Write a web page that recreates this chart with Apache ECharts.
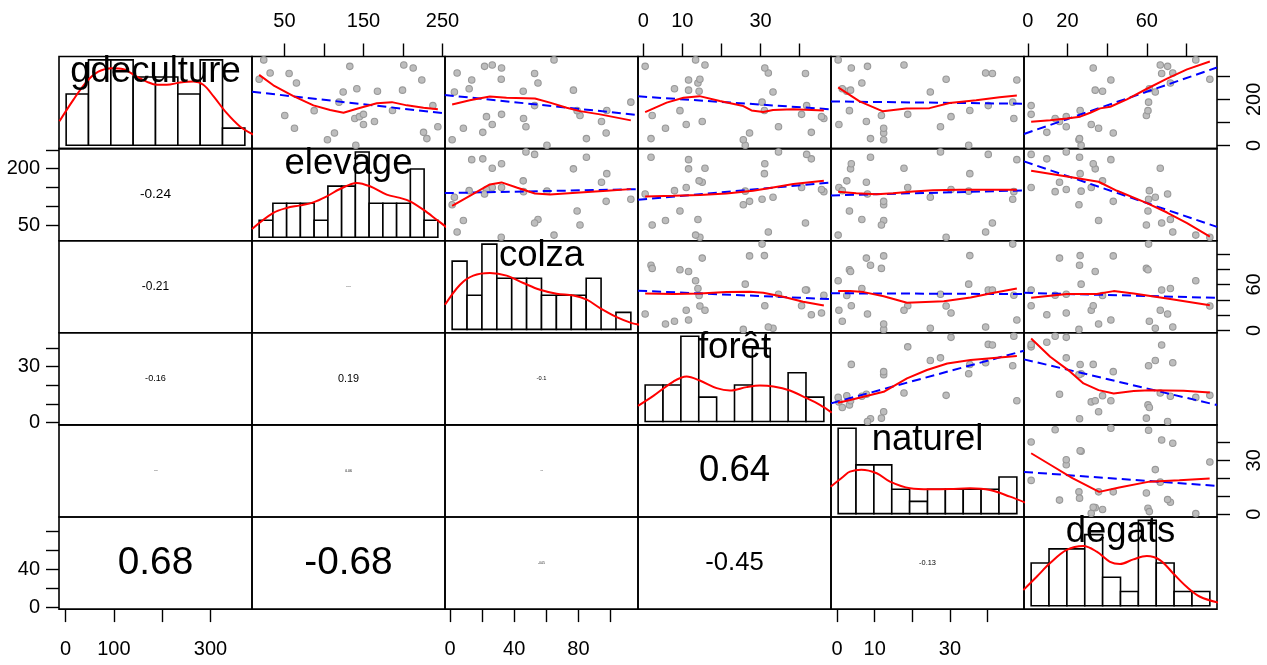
<!DOCTYPE html>
<html><head><meta charset="utf-8">
<script src="https://cdn.jsdelivr.net/npm/echarts@6/dist/echarts.min.js"></script>
<style>html,body{margin:0;padding:0;background:#fff}#c{width:1267px;height:665px}</style>
</head><body><div id="c"></div>
<script>
// ---------- data (30 observations, naturel has one missing value) ----------
const varNames = ['gdeculture', 'elevage', 'colza', 'forêt', 'naturel', 'degats'];
const gdeculture = [1.4, 25, 30, 54, 57, 75, 81, 91, 104, 117, 125, 130, 135, 151, 152, 173, 188, 232, 235, 240, 246, 271, 284, 287, 312, 314, 336, 343, 349, 371];
const elevage = [140.3, 104.4, 230.2, 113.3, 226, 62.7, 244.1, 150, 163.9, 139, 144.9, 50.4, 150, 87.6, 186.7, 237.8, 119, 124.3, 167.7, 199.4, 141.6, 65.2, 223.8, 18, 55.9, 31.9, 212.9, 132.7, 201, 23.8];
const colza = [60.4, 1.3, 85, 97.3, 20.4, 8.3, 47.3, 26.3, 94.4, 45.8, 22.7, 81, 32.1, 79.2, 97.7, 52.7, 112.7, 2.7, 45.6, 76.9, 11.9, 54.8, 13.5, 31.9, 52.7, 4.4, 32.1, 21.5, 26.3, 64.8];
const foret = [26.1, 25.6, 2.0, 27.2, 43, 5.7, 34.6, 11, 15.1, 46.2, 45.6, 2.3, 40.5, 9.4, 31, 41.8, 30.4, 33.2, 14.3, 11.6, 8.0, 14, 11.6, 14.5, 41.5, 32, 31.1, 0.5, 15.8, 13.4];
const naturel = [35, 12.4, 8.9, 12.4, null, 12.4, 27.5, 0.5, 7.8, 47, 30.3, 11.8, 18.8, 3.3, 35.3, 40.2, 46.7, 24.8, 2.6, 3.6, 1.4, 6.6, 47.8, 29, 41.3, 39.5, 3.8, 8.1, 17.8, 0.3];
const degats = [26.9, 25.8, 26.1, 43.1, 9.6, 35.7, 19.4, 32, 16, 13.8, 19.4, 59.8, 1.7, 60.6, 26.4, 1.7, 60.9, 64.3, 37.7, 34, 61.3, 71.9, 41.9, 91.8, 67.5, 73.1, 33, 70.5, 66.8, 84.7];

// histogram breaks and counts (diagonal)
const gdecultureBreaks = [0, 50, 100, 150, 200, 250, 300, 350, 400];
const gdecultureCounts = [3, 5, 5, 4, 4, 3, 5, 1];
const elevageBreaks = [0, 20, 40, 60, 80, 100, 120, 140, 160, 180, 200, 220, 240, 260];
const elevageCounts = [1, 2, 2, 2, 1, 3, 3, 5, 2, 2, 2, 4, 1];
const colzaBreaks = [0, 10, 20, 30, 40, 50, 60, 70, 80, 90, 100, 110, 120];
const colzaCounts = [4, 2, 5, 3, 3, 3, 2, 2, 2, 3, 0, 1];
const foretBreaks = [0, 5, 10, 15, 20, 25, 30, 35, 40, 45, 50];
const foretCounts = [3, 3, 7, 2, 0, 3, 6, 0, 4, 2];
const naturelBreaks = [0, 5, 10, 15, 20, 25, 30, 35, 40, 45, 50];
const naturelCounts = [7, 4, 4, 2, 1, 2, 2, 2, 2, 3];
const degatsBreaks = [0, 10, 20, 30, 40, 50, 60, 70, 80, 90, 100];
const degatsCounts = [3, 4, 4, 5, 2, 1, 6, 3, 1, 1];

// density curves (in count units)
const gdecultureDensity = [[-15,1.4],[16,2.66],[46,3.73],[72,4.31],[102,4.51],[128,4.45],[158,4.02],[180,3.73],[203,3.54],[225,3.54],[255,3.67],[285,3.73],[307,3.54],[330,2.86],[359,1.89],[389,1.1],[419,0.62]];
const elevageDensity = [[-10.4,0.49],[20.6,1.43],[40,1.72],[59.4,1.87],[78.8,2.05],[98.3,2.4],[117.6,2.83],[141.9,3.19],[161.3,2.99],[185.6,2.5],[205,2.31],[219.5,2.11],[238.8,1.62],[258.3,1.03],[273.8,0.55]];
const colzaDensity = [[-4.8,1.44],[5.3,2.62],[14.2,3.15],[25.4,3.3],[36.6,3.15],[47.8,2.72],[59,2.32],[70.2,2.09],[81.4,1.99],[90.4,1.74],[99.3,1.25],[110.5,0.72],[120.6,0.37],[126.2,0.27]];
const foretDensity = [[-2,1.28],[2.3,2.1],[7.9,3.28],[11.6,3.69],[15.3,3.36],[20,2.74],[23.7,2.54],[28.4,2.82],[32.1,2.95],[35.9,2.87],[40.5,2.54],[45.2,1.91],[48.9,1.36],[52.2,0.73]];
const naturelDensity = [[-2.1,2.21],[1.4,3.03],[3.3,3.44],[6.5,3.6],[10.8,3.31],[14.5,2.62],[20.1,2.08],[25.7,2.0],[31.3,2.02],[36.9,2.08],[42.5,1.94],[48.1,1.39],[52.8,0.85]];
const degatsDensity = [[-4.4,1.1],[3.1,2.04],[10.5,2.98],[19.9,3.92],[29.2,4.2],[36.7,3.8],[44.1,3.09],[49.7,2.93],[57.2,3.26],[64.7,3.49],[72.1,3.21],[79.5,2.27],[87,1.33],[94.5,0.63],[105.3,0.2]];

// smoothers (red) and linear fits (blue dashed) for upper panels, keyed row-col
const smooth_1_2 = [[18,306],[36,261],[61.4,214],[86.7,174],[107.8,154],[124.7,142],[141.6,159],[166.9,183],[185.9,188],[204.9,174],[226,164],[244.1,157]];
const fit_1_2 = [[9.1,233],[253.4,139]];
const smooth_1_3 = [[1.3,178],[12.3,196],[24.8,212],[35.2,207],[52.9,204],[62.3,186],[72.7,164],[81,149],[93.5,135],[112.7,109]];
const fit_1_3 = [[-3.3,219],[117.5,132]];
const smooth_1_4 = [[0.5,145],[6,186],[10.3,207],[14.4,214],[19.6,193],[25.6,171],[27.7,152],[30.7,145],[33.2,154],[38.4,157],[46.2,152]];
const fit_1_4 = [[-1.3,213],[48,157]];
const smooth_1_5 = [[0.3,252],[6,191],[12.2,148],[18.4,160],[24.6,162],[29.9,184],[37,196],[43.2,209],[47.8,217]];
const fit_1_5 = [[-1.6,191],[49.7,181]];
const smooth_1_6 = [[1.7,103],[11.3,109],[19.7,117],[26.4,125],[31.5,142],[36.5,161],[41.6,168],[50,200],[60.1,246],[70.2,290],[80.3,330],[91.8,364]];
const fit_1_6 = [[-1.9,50],[95.4,338]];
const smooth_2_3 = [[1.3,101.4],[12.3,128],[24.8,158.2],[32.1,163.5],[41.5,150.2],[52.9,134.2],[62.3,131.6],[81,136.9],[97.7,141.3],[112.7,145.7]];
const fit_2_3 = [[-3.3,135.1],[117.5,145.7]];
const smooth_2_4 = [[0.5,126.2],[7.7,128],[14.5,129.8],[21.3,134.2],[28.1,141.3],[33.2,150.2],[38.4,159],[46.2,167.9]];
const fit_2_4 = [[-1.3,117.4],[48,163.5]];
const smooth_2_5 = [[0.3,138.6],[5.1,135],[10.5,132.4],[14.9,135],[20.2,139.5],[25.5,143],[32.6,143.9],[39.7,143.9],[47.8,143.9]];
const fit_2_5 = [[-1.6,129],[49.7,142.3]];
const smooth_2_6 = [[1.7,194.5],[19.7,179.4],[35.7,165.2],[45,141.3],[60.1,108.5],[70.2,83.7],[80.3,55.3],[91.8,20]];
const fit_2_6 = [[-1.9,219.3],[95.4,45.6]];
const smooth_3_4 = [[0.5,48.2],[7.7,47.4],[14.5,48.2],[21.3,50],[27.3,50.4],[30.7,49.1],[35.8,43.9],[40.9,37.3],[46.2,32.5]];
const fit_3_4 = [[-1.3,51.8],[48,40.8]];
const smooth_3_5 = [[0.3,51.3],[3.5,51.3],[7.1,50],[12.4,44.7],[18.6,36],[28.4,38.2],[35.5,43],[41.7,49.1],[47.8,54.8]];
const fit_3_5 = [[-1.6,48.5],[49.7,47.4]];
const smooth_3_6 = [[1.7,42.5],[19.7,47.4],[34.8,47.4],[43.3,51.3],[53.4,48.2],[70.2,41.7],[91.8,32.9]];
const fit_3_6 = [[-1.9,49.1],[95.4,42.5]];
const smooth_4_5 = [[0.3,10.5],[3.5,12],[12.4,16.4],[18.6,23.6],[23.9,28.1],[29.3,31.6],[35.5,33.4],[41.7,34.5],[47.8,35.6]];
const fit_4_5 = [[-1.6,10.2],[49.7,38.4]];
const smooth_4_6 = [[1.7,45],[11.3,35.2],[21.4,27.2],[28.1,20.9],[35.7,17.3],[43.3,15.5],[53.4,16.8],[61.8,17.3],[78.6,17],[91.8,16.1]];
const fit_4_6 = [[-1.9,33.8],[95.4,9.3]];
const smooth_5_6 = [[1.7,33.9],[12.4,26.8],[22.5,20],[36,12.4],[46.1,14.8],[61.3,18.1],[76.4,18.9],[91.7,19.8]];
const fit_5_6 = [[-1.9,23.5],[95.4,15.7]];

// correlation labels for lower panels, in reading order
const corrLabels = ['-0.24', '-0.21', '0.04', '-0.16', '0.19', '-0.1', '-0.03', '0.06', '0.02', '0.64', '0.68', '-0.68', '-0.05', '-0.45', '-0.13'];

// outer axis ticks and labels
const gdecultureTicks = [0, 100, 200, 300];      const gdecultureLabelsBottom = [0, 100, 300]; const gdecultureLabelsRight = [0, 200];
const elevageTicks = [50, 100, 150, 200, 250];  const elevageLabelsTop = [50, 150, 250];       const elevageLabelsLeft = [50, 200];
const colzaTicks = [0, 20, 40, 60, 80, 100];    const colzaLabelsBottom = [0, 40, 80];         const colzaLabelsRight = [0, 60];
const foretTicks = [0, 10, 20, 30, 40];         const foretLabelsTop = [0, 10, 30];            const foretLabelsLeft = [0, 30];
const naturelTicks = [0, 10, 20, 30, 40];       const naturelLabelsBottom = [0, 10, 30];       const naturelLabelsRight = [0, 30];
const degatsTicks = [0, 20, 40, 60, 80];        const degatsLabelsTop = [0, 20, 60];           const degatsLabelsLeft = [0, 40];

// ---------- build ----------
const vars = [gdeculture, elevage, colza, foret, naturel, degats];
const breaks = [gdecultureBreaks, elevageBreaks, colzaBreaks, foretBreaks, naturelBreaks, degatsBreaks];
const counts = [gdecultureCounts, elevageCounts, colzaCounts, foretCounts, naturelCounts, degatsCounts];
const dens = [gdecultureDensity, elevageDensity, colzaDensity, foretDensity, naturelDensity, degatsDensity];
const smooths = {'1_2':smooth_1_2,'1_3':smooth_1_3,'1_4':smooth_1_4,'1_5':smooth_1_5,'1_6':smooth_1_6,'2_3':smooth_2_3,'2_4':smooth_2_4,'2_5':smooth_2_5,'2_6':smooth_2_6,'3_4':smooth_3_4,'3_5':smooth_3_5,'3_6':smooth_3_6,'4_5':smooth_4_5,'4_6':smooth_4_6,'5_6':smooth_5_6};
const fits = {'1_2':fit_1_2,'1_3':fit_1_3,'1_4':fit_1_4,'1_5':fit_1_5,'1_6':fit_1_6,'2_3':fit_2_3,'2_4':fit_2_4,'2_5':fit_2_5,'2_6':fit_2_6,'3_4':fit_3_4,'3_5':fit_3_5,'3_6':fit_3_6,'4_5':fit_4_5,'4_6':fit_4_6,'5_6':fit_5_6};

const FONT = 'Liberation Sans, Arial, Helvetica, sans-serif';
const L0 = 59, W = 193, T0 = 56.5, H = 92.1;
function ext(a) {
  const v = a.filter(x => x != null);
  const mn = Math.min(...v), mx = Math.max(...v), r = mx - mn;
  return [mn - 0.04 * r, mx + 0.04 * r];
}
const ranges = vars.map(ext);

function outer(position, ticks, labels, rotate, margin) {
  return {
    show: true, position,
    axisLine: { show: false, onZero: false }, splitLine: { show: false },
    axisTick: { show: true, inside: false, length: 13, lineStyle: { color: '#000', width: 1.4 }, customValues: ticks },
    axisLabel: { show: true, customValues: labels, rotate: rotate || 0, margin, color: '#000', fontSize: 20, fontFamily: FONT, hideOverlap: false }
  };
}
const outerX = {
  '0_1': outer('top', elevageTicks, elevageLabelsTop, 0, 25),
  '0_3': outer('top', foretTicks, foretLabelsTop, 0, 25),
  '0_5': outer('top', degatsTicks, degatsLabelsTop, 0, 25),
  '5_0': outer('bottom', gdecultureTicks, gdecultureLabelsBottom, 0, 30),
  '5_2': outer('bottom', colzaTicks, colzaLabelsBottom, 0, 30),
  '5_4': outer('bottom', naturelTicks, naturelLabelsBottom, 0, 30)
};
const outerY = {
  '1_0': outer('left', elevageTicks, elevageLabelsLeft, 0, 19),
  '3_0': outer('left', foretTicks, foretLabelsLeft, 0, 19),
  '5_0': outer('left', degatsTicks, degatsLabelsLeft, 0, 19),
  '0_5': outer('right', gdecultureTicks, gdecultureLabelsRight, 90, 27),
  '2_5': outer('right', colzaTicks, colzaLabelsRight, 90, 27),
  '4_5': outer('right', naturelTicks, naturelLabelsRight, 90, 27)
};

const grids = [], xAxes = [], yAxes = [], series = [], graphic = [];
let corrIdx = 0;
for (let i = 0; i < 6; i++) {
  for (let j = 0; j < 6; j++) {
    const k = i * 6 + j, key = i + '_' + j;
    grids.push({ left: L0 + j * W, top: T0 + i * H, width: W, height: H, show: true, borderColor: '#000', borderWidth: 1.6, backgroundColor: 'transparent' });
    let xr, yr;
    if (i === j) {
      const b = breaks[i], span = b[b.length - 1] - b[0], M = Math.max(...counts[i]);
      xr = [b[0] - 0.04 * span, b[b.length - 1] + 0.04 * span];
      yr = [-0.04 * M, 1.04 * M];
    } else {
      xr = ranges[j]; yr = ranges[i];
    }
    const base = { type: 'value', gridIndex: k, show: false, splitLine: { show: false }, axisLine: { show: false, onZero: false } };
    xAxes.push(Object.assign({}, base, { min: xr[0], max: xr[1] }, outerX[key] || {}));
    yAxes.push(Object.assign({}, base, { min: yr[0], max: yr[1] }, outerY[key] || {}));

    if (i === j) {
      const b = breaks[i];
      series.push({
        type: 'custom', xAxisIndex: k, yAxisIndex: k, silent: true, z: 2,
        data: counts[i].map((c, t) => [b[t], b[t + 1], c]),
        encode: { x: [0, 1], y: 2 },
        renderItem: (params, api) => {
          const p0 = api.coord([api.value(0), 0]);
          const p1 = api.coord([api.value(1), api.value(2)]);
          return { type: 'rect', shape: { x: p0[0], y: p1[1], width: p1[0] - p0[0], height: p0[1] - p1[1] },
                   style: { fill: '#fff', stroke: '#000', lineWidth: 1.6 } };
        }
      });
      series.push({ type: 'line', xAxisIndex: k, yAxisIndex: k, data: dens[i], smooth: 0.35, showSymbol: false, silent: true, clip: true, z: 3,
                    lineStyle: { color: '#ff0000', width: 2 } });
      graphic.push({ type: 'text', x: L0 + j * W + W / 2, y: T0 + i * H + 15, z: 100, silent: true,
                     style: { text: varNames[i], fontSize: 36.5, fontFamily: FONT, fill: '#000', align: 'center', verticalAlign: 'middle' } });
    } else if (i < j) {
      const pts = [];
      vars[j].forEach((x, t) => { const y = vars[i][t]; if (x != null && y != null) pts.push([x, y]); });
      series.push({ type: 'scatter', xAxisIndex: k, yAxisIndex: k, data: pts, symbol: 'circle', symbolSize: 6.5, silent: true, z: 2,
                    itemStyle: { color: '#bdbdbd', borderColor: '#999999', borderWidth: 1.1, opacity: 1 } });
      const sk = (i + 1) + '_' + (j + 1);
      series.push({ type: 'line', xAxisIndex: k, yAxisIndex: k, data: fits[sk], showSymbol: false, silent: true, clip: true, z: 3,
                    lineStyle: { color: '#0000ff', width: 2, type: [9, 5] } });
      series.push({ type: 'line', xAxisIndex: k, yAxisIndex: k, data: smooths[sk], showSymbol: false, silent: true, clip: true, z: 4,
                    lineStyle: { color: '#ff0000', width: 2 } });
    } else {
      const txt = corrLabels[corrIdx++];
      const size = Math.max(57 * Math.abs(parseFloat(txt)), 1);
      series.push({ type: 'scatter', xAxisIndex: k, yAxisIndex: k, silent: true, symbolSize: 0, z: 5,
                    itemStyle: { opacity: 1 },
                    data: [[(xr[0] + xr[1]) / 2, (yr[0] + yr[1]) / 2]],
                    label: { show: true, position: 'inside', formatter: txt, fontSize: size, fontFamily: FONT, color: '#000', opacity: 1 } });
    }
  }
}

const chart = echarts.init(document.getElementById('c'), null, { renderer: 'canvas' });
chart.setOption({ animation: false, backgroundColor: '#fff', grid: grids, xAxis: xAxes, yAxis: yAxes, series, graphic });
</script></body></html>
